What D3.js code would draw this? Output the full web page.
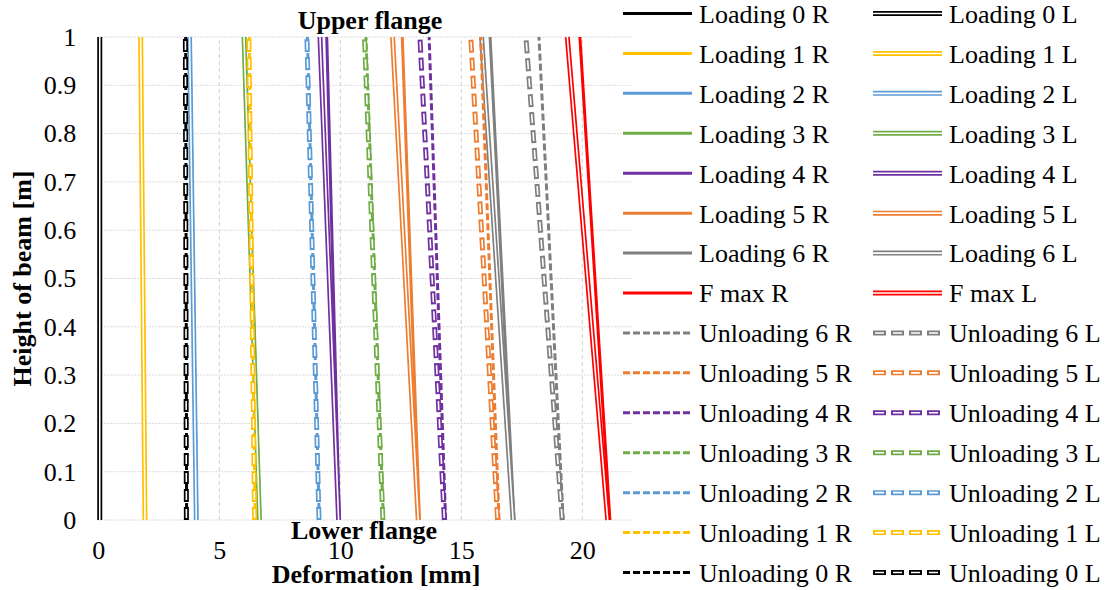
<!DOCTYPE html>
<html>
<head>
<meta charset="utf-8">
<script src="https://cdn.jsdelivr.net/npm/d3@7"></script>
<style>
  body { margin: 0; background: #fff; }
  svg { font-family: "Liberation Serif", "Times New Roman", serif; }
  .tick text { font-family: "Liberation Serif", "Times New Roman", serif; font-size: 26px; fill: #000; }
  .axisLb { font-size: 26px; font-weight: bold; text-anchor: middle; }
  .legTxt { font-size: 26px; }
</style>
</head>
<body>
<div id="main"></div>
<script>
var ctx = {
    w: 1109,
    h: 590,
};

// heights of the measuring points [m]
const heights = [0, 1];

const seriesNames = [
    "Loading 0 R", "Loading 0 L", "Loading 1 R", "Loading 1 L",
    "Loading 2 R", "Loading 2 L", "Loading 3 R", "Loading 3 L",
    "Loading 4 R", "Loading 4 L", "Loading 5 R", "Loading 5 L",
    "Loading 6 R", "Loading 6 L", "F max R", "F max L",
    "Unloading 6 R", "Unloading 6 L", "Unloading 5 R", "Unloading 5 L",
    "Unloading 4 R", "Unloading 4 L", "Unloading 3 R", "Unloading 3 L",
    "Unloading 2 R", "Unloading 2 L", "Unloading 1 R", "Unloading 1 L",
    "Unloading 0 R", "Unloading 0 L"
];

// deformation [mm] at lower flange (height 0)
const defBottom = [
    0.06, 0.06, 1.93, 1.93,
    4.07, 4.05, 6.68, 6.66,
    9.96, 9.93, 13.27, 13.22,
    17.18, 17.14, 21.14, 21.05,
    19.21, 19.17, 16.56, 16.50,
    14.35, 14.30, 11.78, 11.76,
    9.13, 9.12, 6.48, 6.46,
    3.65, 3.64
];

// deformation [mm] at upper flange (height 1)
const defTop = [
    0.06, 0.06, 1.75, 1.75,
    3.79, 3.77, 6.06, 6.02,
    9.44, 9.16, 12.56, 12.16,
    16.19, 15.84, 19.90, 19.38,
    18.21, 17.67, 15.80, 15.39,
    13.67, 13.29, 11.06, 11.00,
    8.64, 8.62, 6.24, 6.22,
    3.61, 3.60
];

const xTicks = [0, 5, 10, 15, 20];
const yTicks = [0, 0.1, 0.2, 0.3, 0.4, 0.5, 0.6, 0.7, 0.8, 0.9, 1];

// colour per load stage: 0..6 and F max
const stageColors = ["#000000", "#FFC000", "#5B9BD5", "#70AD47", "#7030A0", "#ED7D31", "#7F7F7F", "#FF0000"];

var styleOf = function(name) {
    var m = name.match(/(\d)/);
    var stage = m ? +m[1] : 7;
    return {
        color: stageColors[stage],
        dashed: name.startsWith("Unloading"),
        double: name.endsWith(" L")
    };
};

// draws a line path in the Excel way: plain / dashed, single / double
var drawStyled = function(g, dAttr, st) {
    if (st.double) {
        g.append("path").attr("d", dAttr)
            .attr("fill", "none").attr("stroke", st.color)
            .attr("stroke-width", 5)
            .attr("stroke-dasharray", st.dashed ? "13 5" : null);
        g.append("path").attr("d", dAttr)
            .attr("fill", "none").attr("stroke", "#fff")
            .attr("stroke-width", 1.6)
            .attr("stroke-dasharray", st.dashed ? "9 9" : null)
            .attr("stroke-dashoffset", st.dashed ? -2 : null);
    } else {
        g.append("path").attr("d", dAttr)
            .attr("fill", "none").attr("stroke", st.color)
            .attr("stroke-width", 3)
            .attr("stroke-dasharray", st.dashed ? "7 3" : null);
    }
};

var initSVGcanvas = function() {
    ctx.xScale = d3.scaleLinear().domain([0, 22]).range([98.3, 630.7]);
    ctx.yScale = d3.scaleLinear().domain([0, 1]).range([520, 37]);
    var x = ctx.xScale, y = ctx.yScale;
    var bkg = d3.select("#bkgG");

    // gridlines
    bkg.append("g").selectAll("line").data(yTicks).enter().append("line")
        .attr("x1", x(0)).attr("x2", x(22))
        .attr("y1", d => y(d)).attr("y2", d => y(d))
        .attr("stroke", "#d0d0d0").attr("stroke-width", 1)
        .attr("stroke-dasharray", "1.5 1.5");
    bkg.append("g").selectAll("line").data(xTicks).enter().append("line")
        .attr("x1", d => x(d)).attr("x2", d => x(d))
        .attr("y1", y(0)).attr("y2", y(1))
        .attr("stroke", "#d0d0d0").attr("stroke-width", 1)
        .attr("stroke-dasharray", "4 3");

    // axes (labels only)
    var ax = bkg.append("g")
        .attr("transform", `translate(0,${y(0)})`)
        .call(d3.axisBottom(x).tickValues(xTicks).tickSize(0).tickPadding(21));
    ax.select(".domain").remove();
    var ay = bkg.append("g")
        .attr("transform", `translate(${x(0)},0)`)
        .call(d3.axisLeft(y).tickValues(yTicks).tickFormat(d => String(d)).tickSize(0).tickPadding(22));
    ay.select(".domain").remove();
    // drop d3's default sans-serif 10px on the axis groups
    [ax, ay].forEach(a => a.attr("font-family", null).attr("font-size", null));

    // axis titles and flange labels
    bkg.append("text").classed("axisLb", true)
        .attr("x", 376).attr("y", 583).text("Deformation [mm]");
    bkg.append("text").classed("axisLb", true)
        .attr("transform", `translate(31,${(y(0) + y(1)) / 2}) rotate(-90)`)
        .text("Height of beam [m]");
    bkg.append("text").classed("axisLb", true)
        .attr("x", 370).attr("y", y(1) - 8).text("Upper flange");
    bkg.append("text").classed("axisLb", true)
        .attr("x", 364).attr("y", y(0) + 19).text("Lower flange");
};

var populateSVGcanvas = function() {
    var x = ctx.xScale, y = ctx.yScale;
    var group = d3.select("#rootG").append("g").attr("id", "seriesG");
    var line = d3.line().x(d => x(d.def)).y(d => y(d.h));

    seriesNames.forEach((name, i) => {
        var pts = heights.map((h, k) => ({ h: h, def: k === 0 ? defBottom[i] : defTop[i] }));
        drawStyled(group.append("g"), line(pts), styleOf(name));
    });

    // legend, two columns, row-major like Excel
    var leg = d3.select("#rootG").append("g").attr("id", "legendG");
    seriesNames.forEach((name, i) => {
        var col = i % 2, row = Math.floor(i / 2);
        var lx = 623 + col * 250, ly = 13.5 + row * 39.93;
        var g = leg.append("g");
        drawStyled(g, `M${lx},${ly}H${lx + 69}`, styleOf(name));
        g.append("text").classed("legTxt", true)
            .attr("x", lx + 76).attr("y", ly + 9.4).text(name);
    });
};

var createViz = function() {
    var svgEl = d3.select("#main").append("svg");
    svgEl.attr("width", ctx.w);
    svgEl.attr("height", ctx.h);
    var rootG = svgEl.append("g").attr("id", "rootG");
    rootG.append("g").attr("id", "bkgG");
    initSVGcanvas();
    populateSVGcanvas();
};

createViz();
</script>
</body>
</html>
